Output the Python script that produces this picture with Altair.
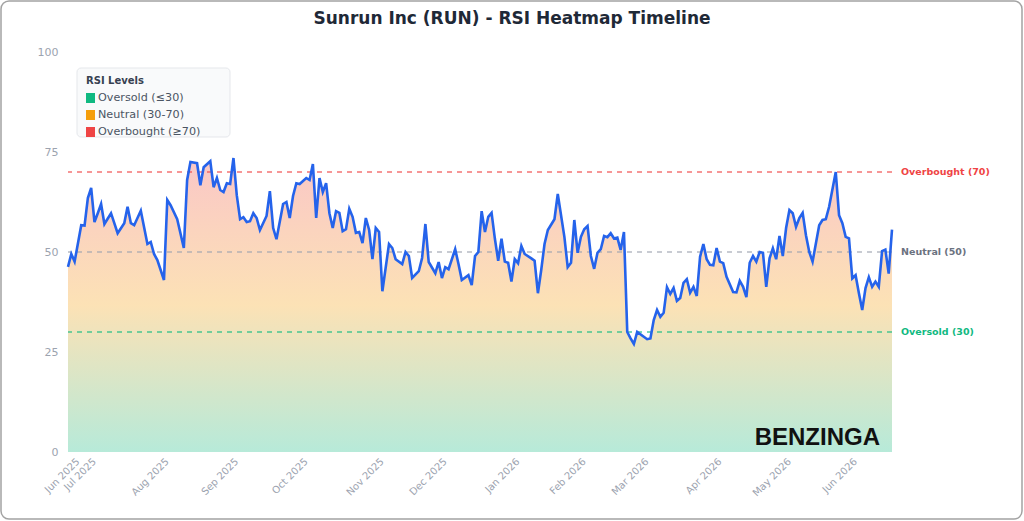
import altair as alt
import pandas as pd

# ---------------- data ----------------
day_index = [0, 1, 2, 4, 5, 6, 7, 8, 9, 10, 11, 13, 15, 17, 18, 19, 20, 22, 24, 25, 26, 27, 29, 30, 31, 33, 35, 36, 37, 39,
             40, 41, 43, 44, 45, 46, 47, 48, 49, 50, 51, 52, 53, 54, 55, 56, 57, 58, 60, 61, 62, 63, 65, 66, 67, 68, 69, 70,
             72, 73, 74, 75, 76, 77, 78, 79, 80, 81, 82, 83, 84, 85, 86, 87, 88, 89, 90, 91, 92, 93, 94, 95, 97, 98, 99,
             101, 102, 103, 104, 106, 107, 108, 109, 111, 112, 113, 114, 115, 117, 118, 119, 121, 122, 123, 124, 125, 126,
             127, 128, 129, 130, 131, 132, 133, 134, 135, 136, 137, 138, 140, 141, 142, 143, 144, 145, 147, 148, 150, 151,
             152, 153, 154, 155, 156, 157, 158, 159, 160, 161, 162, 163, 164, 165, 166, 167, 168, 169, 170, 171, 172, 174,
             175, 176, 177, 178, 179, 180, 181, 182, 183, 184, 185, 186, 187, 188, 189, 190, 191, 192, 193, 194, 195, 196,
             197, 198, 199, 201, 202, 203, 204, 205, 206, 207, 208, 209, 210, 211, 212, 213, 214, 215, 216, 217, 218, 219,
             220, 221, 222, 223, 224, 225, 227, 228, 229, 230, 232, 233, 234, 235, 236, 237, 238, 239, 240, 241, 242, 243,
             244, 245, 246, 247, 248, 249]
rsi = [46.3, 49.5, 47.6, 56.7, 56.6, 63.5, 66, 57.5, 59.7, 62, 57, 59.7, 54.7, 57.2, 61.3, 57.2, 56.7, 60.3, 52, 52.5, 49.5,
       48, 43, 63, 61.7, 58.2, 51, 68, 72.5, 72.2, 66.7, 71.2, 72.7, 66.2, 68.5, 65.5, 65, 67.2, 67, 73.5, 64.2, 58.2, 58.7,
       57.5, 57.7, 59.7, 58.5, 55.5, 59, 65.2, 56, 53.2, 62, 62.5, 58.5, 64, 67.2, 67, 68.5, 68, 72, 58.5, 68.5, 65, 67.2,
       59.7, 56, 60.2, 59.8, 55.2, 55.7, 60.8, 58.8, 54.8, 55, 52.2, 58.5, 55.5, 48.2, 56, 55, 40.2, 52, 51, 48.2, 47, 50,
       49, 43.5, 45.2, 48.5, 57, 47.5, 44.7, 47.5, 43.5, 46.2, 45.7, 50.7, 47, 43, 44.2, 41.7, 49, 50, 60.2, 55, 58.8, 59.8,
       53.3, 47.8, 53.3, 47.6, 47.3, 42.6, 48.2, 47.2, 51.5, 49.5, 48.4, 47.8, 39.7, 45.5, 52, 55.5, 58.2, 64.5, 53.8, 46.2,
       47.3, 58, 49.8, 53.8, 55.7, 56.5, 49, 45.8, 49.8, 50.7, 54, 53.7, 54.7, 53.4, 53.6, 50.5, 55, 30, 28.4, 27, 30, 28.8,
       28.2, 28.4, 33, 35.5, 33.8, 34.8, 41.2, 39.5, 41, 37.8, 38.5, 42.3, 43.2, 39.8, 41.3, 39, 48.8, 52, 48.2, 46.8, 46.7,
       51, 47.6, 47.2, 43.8, 40, 39.9, 42.8, 41.3, 38.7, 47.3, 49, 47.6, 50, 49.8, 41.3, 48.4, 50.9, 48.2, 54, 49, 56, 60.5,
       59.7, 56.3, 58.5, 59.8, 54.2, 50, 47.6, 56.7, 58, 58.2, 61.3, 70, 59.2, 57.2, 53.8, 53.4, 43.4, 44.2, 39.7, 35.5, 41,
       43.7, 41.3, 42.6, 41.3, 50.2, 50.6, 44.6, 55.6]

month_labels = ["Jun 2025", "Jul 2025", "Aug 2025", "Sep 2025", "Oct 2025", "Nov 2025", "Dec 2025",
                "Jan 2026", "Feb 2026", "Mar 2026", "Apr 2026", "May 2026", "Jun 2026"]
month_start_index = [0, 5, 27, 48, 69, 92, 111, 133, 153, 172, 194, 215, 235]
last_index = 249

level_values = [70, 50, 30]
level_labels = ["Overbought (70)", "Neutral (50)", "Oversold (30)"]
level_line_colors = ["#ef4444", "#9ca3af", "#10b981"]
level_text_colors = ["#ef4444", "#6b7280", "#10b981"]

legend_title = "RSI Levels"
legend_labels = ["Oversold (≤30)", "Neutral (30-70)", "Overbought (≥70)"]
legend_colors = ["#10b981", "#f59e0b", "#ef4444"]

y_ticks = [0, 25, 50, 75, 100]
title_text = "Sunrun Inc (RUN) - RSI Heatmap Timeline"
watermark_text = "BENZINGA"

# ---------------- chart ----------------
FONT = "DejaVu Sans"
W, H = 824, 400
L, T = 68, 52  # plot origin on the page

df = pd.DataFrame({"idx": day_index, "rsi": rsi})
levels = pd.DataFrame({"v": level_values, "label": level_labels,
                       "lc": level_line_colors, "tc": level_text_colors})
one = pd.DataFrame({"a": [0]})

label_expr = ("[" + ",".join("'%s'" % m for m in month_labels) + "][indexof(["
              + ",".join(str(i) for i in month_start_index) + "], datum.value)]")

x_enc = alt.X("idx:Q",
              scale=alt.Scale(domain=[0, last_index], nice=False, zero=False),
              axis=alt.Axis(values=month_start_index, labelExpr=label_expr, labelAngle=-45,
                            labelOverlap=False, labelBound=False,
                            domain=False, ticks=False, grid=False, title=None,
                            labelColor="#9ca3af", labelFontSize=10, labelFont=FONT,
                            labelPadding=4, labelOffset=6))
y_enc = alt.Y("rsi:Q",
              scale=alt.Scale(domain=[0, 100], nice=False),
              axis=alt.Axis(values=y_ticks, domain=False, ticks=False, grid=False, title=None,
                            labelColor="#9ca3af", labelFontSize=11, labelFont=FONT,
                            labelPadding=10))

gradient = alt.Gradient(
    gradient="linear",
    stops=[alt.GradientStop(color="rgba(239,68,68,0.30)", offset=0),
           alt.GradientStop(color="rgba(245,158,11,0.30)", offset=0.5),
           alt.GradientStop(color="rgba(16,185,129,0.30)", offset=1)],
    x1=1, x2=1, y1=0, y2=1)

base = alt.Chart(df)
area = base.mark_area(color=gradient).encode(x=x_enc, y=y_enc)
line = base.mark_line(color="#2563eb", strokeWidth=2.6).encode(x="idx:Q", y="rsi:Q")

rules = alt.Chart(levels).mark_rule(strokeDash=[5, 5], strokeWidth=1.3, opacity=0.75).encode(
    y="v:Q", color=alt.Color("lc:N", scale=None))
level_text = alt.Chart(levels).mark_text(align="left", baseline="middle", font=FONT,
                                         fontSize=9.5, fontWeight="bold").encode(
    y="v:Q", x=alt.value(W + 9), text="label:N", color=alt.Color("tc:N", scale=None))

# legend box drawn from marks
legend_layers = [
    alt.Chart(one).mark_rect(fill="#f9fafb", stroke="#e5e7eb", strokeWidth=1, cornerRadius=4).encode(
        x=alt.value(77 - L), x2=alt.value(230 - L), y=alt.value(68 - T), y2=alt.value(137 - T)),
    alt.Chart(one).mark_text(font=FONT, fontSize=10, fontWeight="bold", color="#374151",
                             align="left", baseline="middle").encode(
        x=alt.value(86 - L), y=alt.value(81 - T), text=alt.value(legend_title)),
]
for i, (lab, col) in enumerate(zip(legend_labels, legend_colors)):
    cy = 98 + 17 * i - T
    legend_layers.append(
        alt.Chart(one).mark_rect(fill=col).encode(
            x=alt.value(86 - L), x2=alt.value(95 - L), y=alt.value(cy - 5), y2=alt.value(cy + 5)))
    legend_layers.append(
        alt.Chart(one).mark_text(font=FONT, fontSize=11.2, color="#4b5563",
                                 align="left", baseline="middle").encode(
            x=alt.value(98 - L), y=alt.value(cy), text=alt.value(lab)))

title = alt.Chart(one).mark_text(font=FONT, fontSize=17, fontWeight="bold", color="#1f2937",
                                 align="center", baseline="middle").encode(
    x=alt.value(512 - L), y=alt.value(19 - T), text=alt.value(title_text))

watermark = alt.Chart(one).mark_text(font="Liberation Sans", fontSize=24, fontWeight="bold",
                                     color="#111111", align="right", baseline="alphabetic").encode(
    x=alt.value(W - 12), y=alt.value(H - 7), text=alt.value(watermark_text))

border = alt.Chart(one).mark_rect(fill="transparent", stroke="#a3a3a3", strokeWidth=1.5,
                                  cornerRadius=8).encode(
    x=alt.value(1 - L), x2=alt.value(1022 - L), y=alt.value(1 - T), y2=alt.value(519 - T))

chart = alt.layer(area, rules, line, level_text, *legend_layers, watermark, title, border).properties(
    width=W, height=H,
    autosize=alt.AutoSizeParams(type="none"),
    padding={"left": L, "top": T, "right": 1024 - L - W, "bottom": 521 - T - H},
    background="white",
).configure_view(stroke=None)

chart.save("out.html", embed_options={"renderer": "svg", "actions": False})
